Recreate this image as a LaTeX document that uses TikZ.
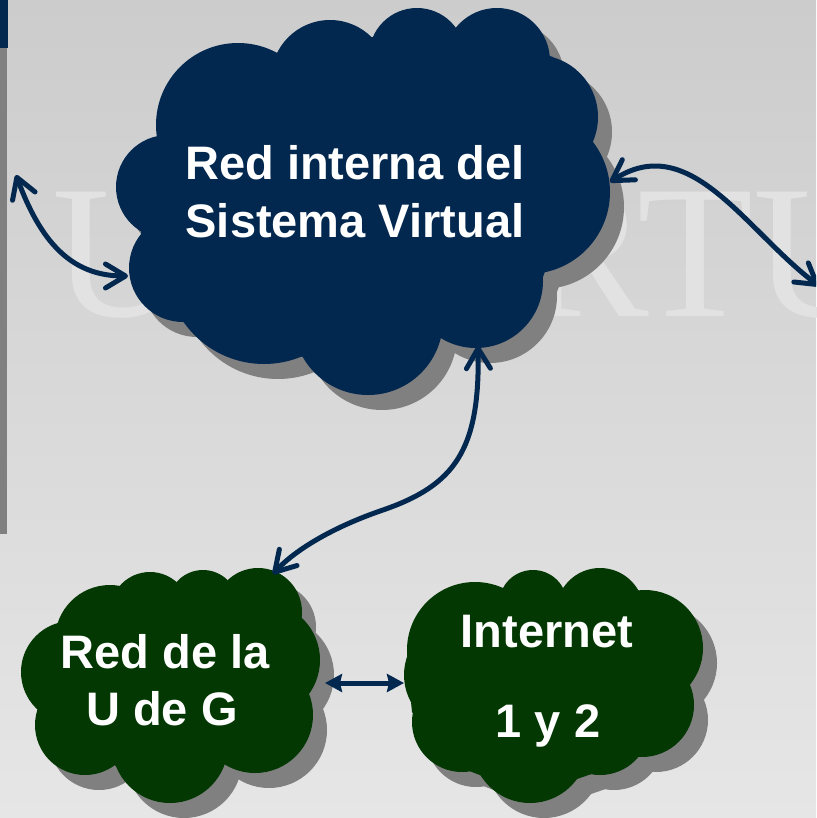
\documentclass[tikz,border=0pt]{standalone}
\usepackage{fontspec}
\setmainfont{Liberation Sans}
\newfontfamily\wmfont{Liberation Serif}
\usetikzlibrary{arrows.meta}
\definecolor{navy}{RGB}{3,40,80}
\definecolor{dgreen}{RGB}{3,56,3}
\definecolor{shad}{RGB}{128,128,128}
\definecolor{bgtop}{RGB}{204,204,204}
\definecolor{bgbot}{RGB}{230,230,230}
\definecolor{wmcol}{RGB}{226,226,226}
\newcommand{\bluecloudfill}[1]{%
  \foreach \cx/\cy/\cr in {238/125/82, 330/79/59, 417/56/48, 497/61/53,
      536/117/62, 528/192/82, 476/281/67, 368/320/75, 264/266/98,
      183/268/54, 168/187/52}
    {\fill[#1] (\cx,\cy) circle[radius=\cr pt];}
  \fill[#1] (277,53) -- (373,37) -- (457,28) -- (553,57) -- (593,140) -- (543,277)
  -- (441,337) -- (303,357) -- (183,322) -- (141,233) -- (157,137) -- cycle;}
\newcommand{\leftcloudfill}[1]{%
  \foreach \cx/\cy/\cr in {110/640/55, 150/612/40, 203/605/35, 258/612/44,
      262/660/58, 255/715/58, 170/745/58, 85/725/50, 72/672/51}
    {\fill[#1] (\cx,\cy) circle[radius=\cr pt];}
  \fill[#1] (65,635) -- (121,595) -- (178,595) -- (232,590) -- (290,610) -- (305,690)
  -- (278,730) -- (215,765) -- (120,770) -- (45,700) -- (45,650) -- cycle;}
\newcommand{\rightcloudfill}[1]{%
  \foreach \cx/\cy/\cr in {475/650/68, 533/604/34, 600/612/44, 645/648/58,
      642/705/52, 600/725/50, 530/745/58, 462/722/50, 460/675/56}
    {\fill[#1] (\cx,\cy) circle[radius=\cr pt];}
  \fill[#1] (418,650) -- (504,595) -- (563,590) -- (640,600) -- (695,665) -- (667,728)
  -- (603,770) -- (531,795) -- (454,765) -- (412,712) -- (408,672) -- cycle;}
\begin{document}
\begin{tikzpicture}[x=1pt,y=-1pt,
  lbl/.style={text=white, font=\bfseries\fontsize{47}{56}\selectfont, anchor=base, inner sep=0pt},
  wmark/.style={text=wmcol, font=\wmfont\fontsize{190}{190}\selectfont, anchor=base west, inner sep=0pt},
  conn/.style={draw=navy, line width=5pt, line cap=round,
    {Straight Barb[length=20pt,width=24pt,round]}-{Straight Barb[length=20pt,width=24pt,round]}},
  dbl/.style={draw=navy, line width=5pt,
    {Stealth[length=17pt,width=18pt,inset=2pt]}-{Stealth[length=17pt,width=18pt,inset=2pt]}},
  shadow/.style={fill=shad, shift={(14,15)}},
  bluefill/.style={fill=navy},
  greenfill/.style={fill=dgreen}
]
\useasboundingbox (0,0) rectangle (816,818);
\clip (0,0) rectangle (816,818);
\shade[top color=bgtop, bottom color=bgbot] (0,0) rectangle (816,818);
% watermark
\node[wmark] (wmU) at (52,316) {U};
\node[wmark] (wmRTU) at (522,316) {RTU};
% left bar
\fill[navy] (0,0) rectangle (8,48);
\fill[shad] (0,48) rectangle (7,534);
% shadows
\bluecloudfill{shadow}
\leftcloudfill{shadow}
\rightcloudfill{shadow}
% clouds
\bluecloudfill{bluefill}
\leftcloudfill{greenfill}
\rightcloudfill{greenfill}
% texts
\node[lbl] (b1) at (355,180) {Red interna del};
\node[lbl] (b2) at (355,237) {Sistema Virtual};
\node[lbl] (g1) at (165,668) {Red de la};
\node[lbl] (g2) at (162,725) {U de G};
\node[lbl] (i1) at (547,647) {Internet};
\node[lbl] (i2) at (548,737) {1 y 2};
% connector ends
\coordinate (lt) at (16,175);
\coordinate (bl) at (128,276);
\coordinate (br) at (610,182);
\coordinate (rt) at (819,286);
\coordinate (bb) at (478,346);
\coordinate (gl) at (273,574);
\coordinate (ga) at (325,683);
\coordinate (gb) at (404,683);
% connectors
\draw[conn] (lt) .. controls (40,240) and (70,276) .. (bl);
\draw[conn] (br) .. controls (690,130) and (745,230) .. (rt);
\draw[conn] (bb) .. controls (480,450) and (455,485) .. (383,510)
  .. controls (333,527) and (295,550) .. (gl);
\draw[dbl] (ga) -- (gb);
\end{tikzpicture}
\end{document}
